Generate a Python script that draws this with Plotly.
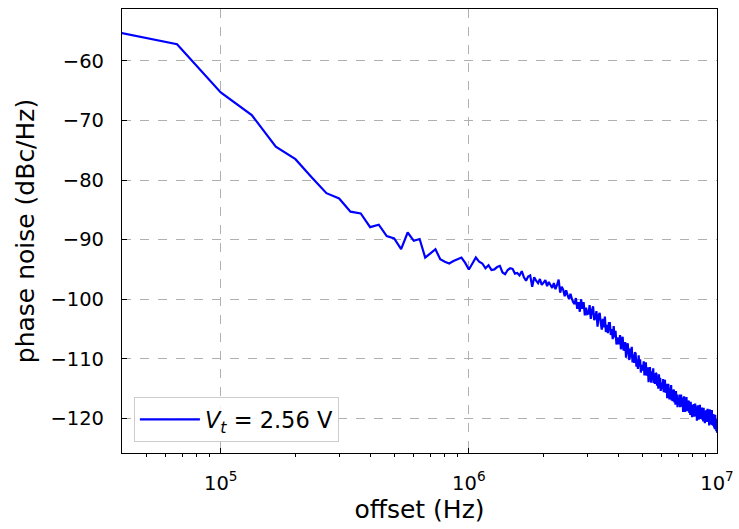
import plotly.graph_objects as go

# Offset frequency grid: 300 points, 33.33 kHz spacing up to 10 MHz
f_step_hz = 1e7 / 300
offset_hz = [f_step_hz * k for k in range(1, 301)]

# Measured phase noise (dBc/Hz) at each offset
phase_noise = [
    -54.7, -57.2, -65.3, -69.1, -74.4, -76.5, -79.6, -82.2, -83.1, -85.3,
    -85.6, -87.9, -87.5, -89.4, -89.8, -91.6, -88.8, -90.2, -89.9, -93.0,
    -92.3, -91.6, -93.3, -93.7, -94.0, -93.6, -93.3, -93.0, -93.9, -95.0,
    -94.0, -93.0, -93.7, -94.0, -94.8, -94.3, -95.1, -95.0, -94.6, -94.4,
    -95.5, -95.8, -95.1, -94.8, -94.9, -95.7, -95.6, -96.0, -95.3, -96.3,
    -96.9, -96.2, -96.0, -97.9, -96.3, -96.9, -97.3, -96.6, -97.6, -97.2,
    -96.8, -97.8, -97.1, -97.6, -98.1, -97.3, -98.3, -97.6, -96.7, -98.9,
    -97.9, -98.4, -99.5, -98.5, -99.3, -100.0, -99.1, -99.9, -100.5, -100.8,
    -99.8, -101.6, -100.5, -102.1, -100.0, -101.6, -100.5, -102.7, -101.4, -102.5,
    -102.4, -101.0, -103.3, -101.9, -101.2, -103.5, -103.1, -102.0, -104.6, -102.7,
    -102.3, -104.0, -105.1, -103.3, -104.7, -102.9, -105.5, -104.3, -105.7, -104.0,
    -104.0, -106.0, -105.0, -106.7, -104.5, -106.4, -105.3, -107.6, -106.4, -107.4,
    -107.4, -106.0, -108.4, -106.9, -106.3, -108.6, -108.3, -107.2, -109.8, -107.9,
    -107.4, -109.0, -110.2, -108.3, -109.8, -108.0, -110.6, -109.3, -110.7, -108.9,
    -109.1, -111.3, -110.1, -111.7, -109.4, -111.3, -110.1, -112.3, -111.0, -111.9,
    -111.8, -110.4, -112.8, -111.3, -110.6, -112.8, -112.5, -111.4, -113.9, -112.0,
    -111.4, -112.9, -114.0, -112.1, -113.5, -111.6, -114.1, -112.9, -114.2, -112.4,
    -112.5, -114.5, -113.4, -115.0, -112.6, -114.4, -113.2, -115.4, -114.0, -115.0,
    -114.9, -113.4, -115.6, -114.2, -113.5, -115.7, -115.3, -114.2, -116.6, -114.8,
    -114.2, -115.6, -116.8, -115.0, -116.3, -114.4, -117.0, -115.8, -117.1, -115.2,
    -115.3, -117.3, -116.1, -117.7, -115.4, -117.0, -116.0, -118.1, -116.6, -117.5,
    -117.5, -116.0, -118.1, -116.7, -116.0, -118.0, -117.6, -116.5, -118.9, -116.9,
    -116.3, -117.7, -118.9, -117.0, -118.3, -116.4, -118.8, -117.6, -118.8, -117.0,
    -117.2, -119.1, -117.9, -119.4, -117.2, -118.8, -117.7, -119.8, -118.3, -119.3,
    -119.1, -117.6, -119.7, -118.2, -117.5, -119.6, -119.1, -118.1, -120.4, -118.3,
    -117.8, -119.2, -120.2, -118.3, -119.6, -117.7, -120.1, -118.9, -120.1, -118.2,
    -118.4, -120.2, -119.0, -120.5, -118.2, -119.9, -118.7, -120.8, -119.3, -120.3,
    -120.1, -118.6, -120.6, -119.2, -118.4, -120.4, -119.9, -118.8, -121.2, -119.1,
    -118.5, -120.0, -121.0, -119.2, -120.5, -118.6, -121.1, -119.8, -121.2, -119.3,
    -119.5, -121.5, -120.2, -121.8, -119.4, -121.1, -120.1, -122.1, -120.6, -122.4,
]

trace_label = "<i>V</i><sub><i>t</i></sub> = 2.56 V"

x_major = [1e5, 1e6, 1e7]
x_major_text = ["10<sup>5</sup>", "10<sup>6</sup>", "10<sup>7</sup>"]
x_minor = [4e4, 5e4, 6e4, 7e4, 8e4, 9e4,
           2e5, 3e5, 4e5, 5e5, 6e5, 7e5, 8e5, 9e5,
           2e6, 3e6, 4e6, 5e6, 6e6, 7e6, 8e6, 9e6]
y_major = [-60, -70, -80, -90, -100, -110, -120]
y_major_text = ["\u2212" + str(abs(v)) for v in y_major]

FONT = "DejaVu Sans"
TICK_SIZE = 19.5
LEGEND_SIZE = 22.5
TITLE_SIZE = 25

fig = go.Figure()
fig.add_trace(go.Scatter(
    x=offset_hz, y=phase_noise, mode="lines",
    line=dict(color="#0000ff", width=2.2, simplify=False),
    name=trace_label,
))

fig.update_layout(
    width=739, height=529,
    margin=dict(l=122, r=22, t=9, b=76),
    paper_bgcolor="white", plot_bgcolor="white",
    font=dict(family=FONT, size=TICK_SIZE, color="black"),
    showlegend=True,
    legend=dict(
        x=0.02, y=0.024, xanchor="left", yanchor="bottom",
        bgcolor="rgba(255,255,255,0.85)", bordercolor="#cccccc", borderwidth=1,
        font=dict(family=FONT, size=LEGEND_SIZE),
        itemwidth=60,
    ),
)

fig.update_xaxes(
    type="log", range=[4.60206, 7.0], automargin=False,
    tickmode="array", tickvals=x_major, ticktext=x_major_text,
    ticks="inside", ticklen=5, tickcolor="black", tickwidth=1,
    ticklabelstandoff=12,
    tickfont=dict(family=FONT, size=TICK_SIZE),
    showline=True, linecolor="black", linewidth=1.2, mirror=True,
    showgrid=True, gridcolor="#b0b0b0", gridwidth=0.8, griddash="dash",
    minor=dict(tickmode="array", tickvals=x_minor, ticks="outside",
               ticklen=3, tickcolor="black", tickwidth=0.8, showgrid=False),
    title=dict(text="offset (Hz)", font=dict(family=FONT, size=TITLE_SIZE), standoff=4),
    zeroline=False,
)

fig.update_yaxes(
    range=[-125.8, -51.3], automargin=False,
    tickmode="array", tickvals=y_major, ticktext=y_major_text,
    ticks="inside", ticklen=5, tickcolor="black", tickwidth=1,
    ticklabelstandoff=13,
    tickfont=dict(family=FONT, size=TICK_SIZE),
    showline=True, linecolor="black", linewidth=1.2, mirror=True,
    showgrid=True, gridcolor="#b0b0b0", gridwidth=0.8, griddash="dash",
    title=dict(text="phase noise (dBc/Hz)", font=dict(family=FONT, size=TITLE_SIZE), standoff=8),
    zeroline=False,
)

fig.write_html("out.html")
